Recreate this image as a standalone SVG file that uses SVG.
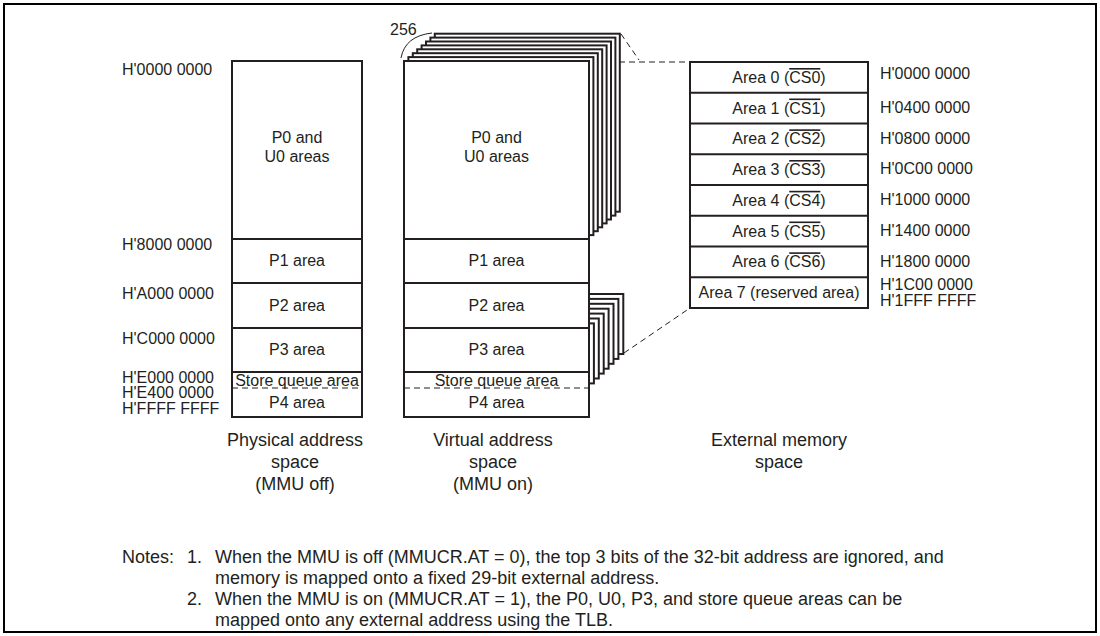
<svg xmlns="http://www.w3.org/2000/svg" width="1100" height="636" viewBox="0 0 1100 636">
<style>
text{font-family:"Liberation Sans",Arial,sans-serif;font-size:16px;fill:#231f20}
.c{text-anchor:middle}
.cap{font-size:18px}
.box{fill:#fff;stroke:#231f20;stroke-width:2}
.ln{stroke:#231f20;stroke-width:2;fill:none}
.dash{stroke:#231f20;stroke-width:1;stroke-dasharray:6 4;fill:none}
.ol{text-decoration:overline}
</style>
<rect x="4" y="4" width="1092" height="628" fill="#fff" stroke="#000" stroke-width="2"/>

<g id="physical">
<rect class="box" x="232" y="61" width="130" height="356"/>
<line class="ln" x1="232" y1="239" x2="362" y2="239"/>
<line class="ln" x1="232" y1="283" x2="362" y2="283"/>
<line class="ln" x1="232" y1="328" x2="362" y2="328"/>
<line class="ln" x1="232" y1="372" x2="362" y2="372"/>
<line class="dash" x1="232" y1="388" x2="362" y2="388"/>
<text class="c" x="297" y="143">P0 and</text>
<text class="c" x="297" y="162">U0 areas</text>
<text class="c" x="297" y="266">P1 area</text>
<text class="c" x="297" y="311">P2 area</text>
<text class="c" x="297" y="355">P3 area</text>
<text class="c" x="297" y="386">Store queue area</text>
<text class="c" x="297" y="408">P4 area</text>
<text x="122" y="75">H'0000 0000</text>
<text x="122" y="250">H'8000 0000</text>
<text x="122" y="299">H'A000 0000</text>
<text x="122" y="344">H'C000 0000</text>
<text x="122" y="383">H'E000 0000</text>
<text x="122" y="398">H'E400 0000</text>
<text x="122" y="414">H'FFFF FFFF</text>
<text class="c cap" x="295" y="446">Physical address</text>
<text class="c cap" x="295" y="468">space</text>
<text class="c cap" x="295" y="490">(MMU off)</text>
</g>

<g id="virtual">
<rect class="box" x="434.8" y="33.7" width="185" height="178"/>
<rect class="box" x="430.4" y="37.6" width="185" height="178"/>
<rect class="box" x="426" y="41.5" width="185" height="178"/>
<rect class="box" x="421.6" y="45.4" width="185" height="178"/>
<rect class="box" x="417.2" y="49.3" width="185" height="178"/>
<rect class="box" x="412.8" y="53.2" width="185" height="178"/>
<rect class="box" x="408.4" y="57.1" width="185" height="178"/>
<rect class="box" x="438.3" y="294" width="185" height="60"/>
<rect class="box" x="433.4" y="298.9" width="185" height="60"/>
<rect class="box" x="428.5" y="303.8" width="185" height="60"/>
<rect class="box" x="423.6" y="308.7" width="185" height="60"/>
<rect class="box" x="418.7" y="313.6" width="185" height="60"/>
<rect class="box" x="413.8" y="318.5" width="185" height="60"/>
<rect class="box" x="408.9" y="323.4" width="185" height="60"/>
<rect class="box" x="404" y="61" width="185" height="356"/>
<line class="ln" x1="404" y1="239" x2="589" y2="239"/>
<line class="ln" x1="404" y1="283" x2="589" y2="283"/>
<line class="ln" x1="404" y1="328" x2="589" y2="328"/>
<line class="ln" x1="404" y1="372" x2="589" y2="372"/>
<line class="dash" x1="404" y1="388" x2="589" y2="388"/>
<path d="M401 58 Q405 36 432 33" fill="none" stroke="#231f20" stroke-width="1"/>
<text x="390" y="35">256</text>
<text class="c" x="496.5" y="143">P0 and</text>
<text class="c" x="496.5" y="162">U0 areas</text>
<text class="c" x="496.5" y="266">P1 area</text>
<text class="c" x="496.5" y="311">P2 area</text>
<text class="c" x="496.5" y="355">P3 area</text>
<text class="c" x="496.5" y="386">Store queue area</text>
<text class="c" x="496.5" y="408">P4 area</text>
<text class="c cap" x="493" y="446">Virtual address</text>
<text class="c cap" x="493" y="468">space</text>
<text class="c cap" x="493" y="490">(MMU on)</text>
</g>

<g id="connectors">
<line class="dash" x1="619" y1="62" x2="690" y2="62"/>
<line class="dash" x1="621" y1="34" x2="639" y2="60"/>
<line class="dash" x1="624" y1="353" x2="690" y2="308"/>
</g>

<g id="external">
<rect class="box" x="690" y="62" width="178" height="246"/>
<line class="ln" x1="690" y1="92.75" x2="868" y2="92.75"/>
<line class="ln" x1="690" y1="123.5" x2="868" y2="123.5"/>
<line class="ln" x1="690" y1="154.25" x2="868" y2="154.25"/>
<line class="ln" x1="690" y1="185" x2="868" y2="185"/>
<line class="ln" x1="690" y1="215.75" x2="868" y2="215.75"/>
<line class="ln" x1="690" y1="246.5" x2="868" y2="246.5"/>
<line class="ln" x1="690" y1="277.25" x2="868" y2="277.25"/>
<text class="c" x="779" y="83">Area 0 (<tspan class="ol">CS0</tspan>)</text>
<text class="c" x="779" y="113.5">Area 1 (<tspan class="ol">CS1</tspan>)</text>
<text class="c" x="779" y="144.3">Area 2 (<tspan class="ol">CS2</tspan>)</text>
<text class="c" x="779" y="175">Area 3 (<tspan class="ol">CS3</tspan>)</text>
<text class="c" x="779" y="205.8">Area 4 (<tspan class="ol">CS4</tspan>)</text>
<text class="c" x="779" y="236.5">Area 5 (<tspan class="ol">CS5</tspan>)</text>
<text class="c" x="779" y="267.3">Area 6 (<tspan class="ol">CS6</tspan>)</text>
<text class="c" x="779" y="298">Area 7 (reserved area)</text>
<text x="880" y="79">H'0000 0000</text>
<text x="880" y="113">H'0400 0000</text>
<text x="880" y="143.5">H'0800 0000</text>
<text x="880" y="174">H'0C00 0000</text>
<text x="880" y="205">H'1000 0000</text>
<text x="880" y="236">H'1400 0000</text>
<text x="880" y="266.5">H'1800 0000</text>
<text x="880" y="290">H'1C00 0000</text>
<text x="880" y="306">H'1FFF FFFF</text>
<text class="c cap" x="779" y="446">External memory</text>
<text class="c cap" x="779" y="468">space</text>
</g>

<g id="notes">
<text class="cap" x="122" y="563">Notes:</text>
<text class="cap" x="187" y="563">1.</text>
<text class="cap" x="215" y="563">When the MMU is off (MMUCR.AT = 0), the top 3 bits of the 32-bit address are ignored, and</text>
<text class="cap" x="215" y="584">memory is mapped onto a fixed 29-bit external address.</text>
<text class="cap" x="187" y="605">2.</text>
<text class="cap" x="215" y="605">When the MMU is on (MMUCR.AT = 1), the P0, U0, P3, and store queue areas can be</text>
<text class="cap" x="215" y="626">mapped onto any external address using the TLB.</text>
</g>
</svg>
